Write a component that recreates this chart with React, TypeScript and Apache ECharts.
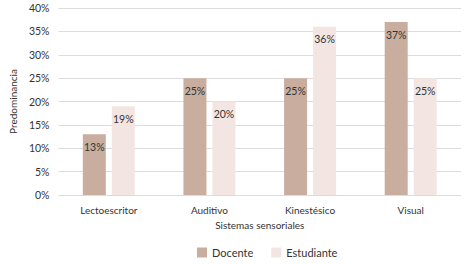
import React, { useEffect, useRef } from "react";
import * as echarts from "echarts";

const categories = ["Lectoescritor", "Auditivo", "Kinestésico", "Visual"];
const docente = [13, 25, 25, 37];
const estudiante = [19, 20, 36, 25];
const seriesNames = ["Docente", "Estudiante"];

export default function App() {
  const ref = useRef<HTMLDivElement>(null);
  useEffect(() => {
    const chart = echarts.init(ref.current!, null, { renderer: "svg" });
    const font = "Lato";
    const label = {
      show: true,
      position: "insideTop" as const,
      distance: 7,
      formatter: "{c}%",
      color: "#333333",
      fontSize: 10.5,
      fontFamily: font,
    };
    chart.setOption({
      animation: false,
      textStyle: { fontFamily: font },
      grid: { left: 54, right: 11, top: 8, bottom: 69, containLabel: false },
      legend: {
        bottom: 1,
        left: 192,
        itemWidth: 10,
        itemHeight: 10,
        itemGap: 18,
        icon: "rect",
        textStyle: { fontSize: 11, color: "#333333", fontFamily: font },
        data: seriesNames,
      },
      xAxis: {
        type: "category",
        data: categories,
        name: "Sistemas sensoriales",
        nameLocation: "middle",
        nameGap: 22,
        nameTextStyle: { fontSize: 10, color: "#333333", fontFamily: font },
        axisLine: { show: false },
        axisTick: { show: false },
        axisLabel: { fontSize: 10, color: "#333333", margin: 10, fontFamily: font },
      },
      yAxis: {
        type: "value",
        min: 0,
        max: 40,
        interval: 5,
        name: "Predominancia",
        nameLocation: "middle",
        nameGap: 39,
        nameTextStyle: { fontSize: 10, color: "#333333", fontFamily: font },
        axisLabel: { formatter: "{value}%", fontSize: 10.5, color: "#333333", margin: 9, fontFamily: font },
        splitLine: { lineStyle: { color: "#dcdcdc", width: 1 } },
        axisLine: { show: false },
        axisTick: { show: false },
      },
      series: [
        {
          name: seriesNames[0],
          type: "bar",
          data: docente,
          barWidth: 23,
          barGap: "26%",
          itemStyle: { color: "#c9ae9f" },
          label,
        },
        {
          name: seriesNames[1],
          type: "bar",
          data: estudiante,
          barWidth: 23,
          itemStyle: { color: "#f3e6e2" },
          label,
        },
      ],
    });
    return () => chart.dispose();
  }, []);
  return (
    <div
      ref={ref}
      style={{ position: "absolute", left: 0, top: 0, width: 472, height: 264 }}
    />
  );
}
